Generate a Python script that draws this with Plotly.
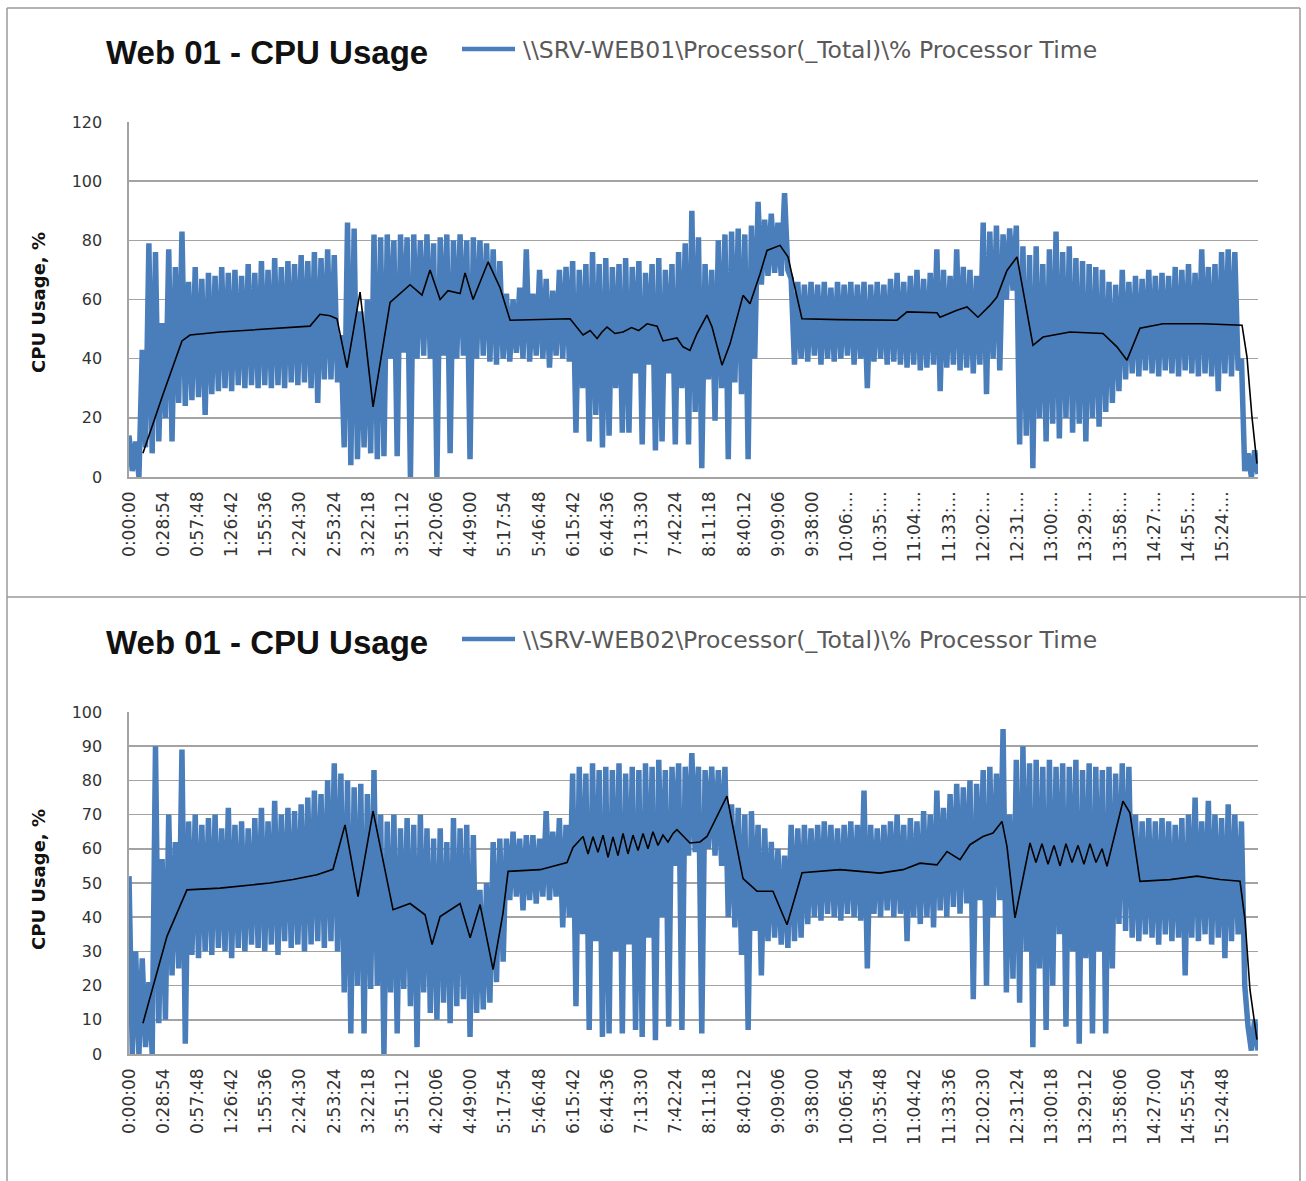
import plotly.graph_objects as go

W, H = 1306, 1181

# ---------------- data ----------------
SAMPLE_MIN = 2.8          # minutes between consecutive samples
LABEL_STEP_MIN = 28.9     # 0:28:54 between category labels

labels_full = ["0:00:00", "0:28:54", "0:57:48", "1:26:42", "1:55:36", "2:24:30", "2:53:24",
               "3:22:18", "3:51:12", "4:20:06", "4:49:00", "5:17:54", "5:46:48", "6:15:42",
               "6:44:36", "7:13:30", "7:42:24", "8:11:18", "8:40:12", "9:09:06", "9:38:00",
               "10:06:54", "10:35:48", "11:04:42", "11:33:36", "12:02:30", "12:31:24",
               "13:00:18", "13:29:12", "13:58:06", "14:27:00", "14:55:54", "15:24:48"]
labels_top = labels_full[:21] + ["10:06:...", "10:35:...", "11:04:...", "11:33:...", "12:02:...",
                                 "12:31:...", "13:00:...", "13:29:...", "13:58:...", "14:27:...",
                                 "14:55:...", "15:24:..."]

# SRV-WEB01: alternating sample highs / lows of the raw counter
web01_peaks = [14, 12, 43, 79, 76, 52, 77, 71, 83, 66,
               71, 67, 69, 68, 71, 69, 70, 68, 72, 69,
               73, 70, 74, 71, 73, 72, 75, 73, 76, 74,
               77, 75, 48, 86, 84, 56, 60, 82, 81, 82,
               80, 82, 81, 82, 80, 82, 79, 81, 82, 80,
               82, 80, 81, 80, 79, 77, 73, 62, 60, 64,
               77, 62, 70, 67, 63, 70, 71, 73, 70, 72,
               76, 72, 74, 71, 72, 74, 71, 73, 69, 72,
               74, 70, 72, 76, 79, 90, 81, 72, 70, 80,
               82, 83, 84, 82, 85, 93, 87, 89, 86, 96,
               67, 66, 65, 66, 65, 66, 64, 66, 65, 66,
               65, 66, 65, 66, 65, 67, 69, 66, 68, 70,
               67, 69, 77, 70, 68, 77, 71, 70, 68, 86,
               83, 85, 82, 84, 85, 78, 75, 78, 72, 77,
               83, 76, 78, 74, 73, 72, 71, 70, 66, 65,
               70, 66, 68, 67, 70, 68, 69, 68, 71, 70,
               72, 69, 77, 71, 72, 76, 77, 76, 40, 8,
               9]
web01_troughs = [2, 0, 10, 8, 12, 20, 12, 25, 24, 26,
                 27, 21, 28, 29, 30, 29, 31, 30, 31, 30,
                 31, 30, 31, 30, 32, 31, 32, 30, 25, 33,
                 33, 32, 10, 4, 6, 10, 8, 6, 7, 40,
                 7, 42, 0, 40, 41, 40, 0, 41, 8, 40,
                 41, 6, 40, 41, 39, 38, 40, 39, 42, 40,
                 39, 41, 40, 37, 41, 40, 39, 15, 30, 12,
                 21, 10, 14, 30, 15, 15, 35, 11, 38, 9,
                 12, 35, 11, 30, 11, 22, 3, 33, 19, 30,
                 6, 32, 28, 6, 40, 65, 68, 69, 68, 70,
                 38, 40, 39, 41, 38, 40, 39, 40, 41, 38,
                 40, 30, 39, 40, 38, 39, 38, 37, 38, 36,
                 37, 38, 29, 37, 38, 36, 37, 35, 38, 28,
                 40, 36, 60, 63, 11, 14, 3, 20, 12, 18,
                 13, 20, 15, 18, 12, 20, 17, 22, 25, 29,
                 33, 35, 34, 36, 35, 34, 36, 35, 34, 36,
                 35, 34, 35, 34, 29, 35, 34, 36, 2, 0,
                 1]
# SRV-WEB01 moving-average trendline (minutes from start, value)
web01_avg_min = [11.8, 28.8, 44.8, 51.6, 77.2, 119.5, 153.1, 161.5, 170, 175.9,
                 184.4, 195.4, 206.4, 220.8, 237.7, 247.8, 254.6, 263.1, 269.8, 280,
                 284.2, 291, 303.7, 313.8, 322.3, 373, 384, 390, 395.9, 400,
                 404.3, 411, 417.8, 425, 431, 438.1, 446.6, 451.6, 463.4, 468.5,
                 474.4, 480.4, 488.8, 493.1, 501.5, 508.3, 519.3, 525.2, 533.7, 539.6,
                 550.6, 557.3, 569.1, 600, 635.1, 649.5, 658, 683.3, 685.9, 700.2,
                 708.7, 718, 728.1, 734, 742.5, 751, 764.5, 773, 795.8, 823.7,
                 835.5, 844, 855, 874.5, 908.3, 941.3, 945.5, 949.7, 953.9]
web01_avg_val = [8, 28, 46, 48, 49, 50, 51, 55, 54.5, 53.5,
                 37, 62.5, 23.7, 59, 65, 61.5, 70, 60, 63, 62,
                 69, 60, 72.7, 64, 53, 53.5, 48, 49.5, 46.8, 49,
                 50.7, 48.5, 49, 50.5, 49.5, 51.8, 51, 46, 47, 44,
                 42.8, 48.5, 54.7, 50.7, 37.8, 45, 61.4, 58.6, 68.7, 76.6,
                 78.3, 74.4, 53.5, 53.2, 53, 53, 55.8, 55.5, 54, 56.4,
                 57.5, 54, 58, 60.8, 69.8, 74.4, 44.5, 47.3, 49, 48.5,
                 44, 39.5, 50.3, 51.8, 51.8, 51.3, 40.5, 20.3, 4.5]

# SRV-WEB02
web02_peaks = [52, 30, 28, 21, 90, 57, 70, 62, 89, 68,
               70, 67, 69, 70, 66, 72, 67, 68, 66, 69,
               72, 68, 74, 70, 72, 71, 73, 75, 77, 76,
               80, 85, 82, 80, 78, 79, 76, 83, 70, 68,
               70, 66, 69, 67, 70, 66, 63, 66, 62, 69,
               66, 67, 64, 48, 50, 62, 63, 63, 65, 63,
               64, 64, 63, 71, 65, 69, 67, 82, 84, 82,
               85, 83, 84, 83, 85, 82, 84, 83, 85, 84,
               86, 83, 84, 85, 84, 88, 84, 83, 84, 83,
               84, 73, 72, 70, 71, 67, 66, 62, 60, 58,
               67, 66, 67, 66, 67, 68, 67, 66, 67, 68,
               67, 77, 67, 66, 67, 68, 70, 67, 69, 68,
               71, 70, 77, 72, 76, 79, 78, 80, 79, 83,
               84, 82, 95, 70, 86, 90, 85, 86, 84, 86,
               84, 85, 84, 86, 83, 85, 84, 83, 84, 82,
               85, 84, 70, 68, 69, 68, 69, 68, 67, 69,
               70, 75, 68, 74, 70, 69, 73, 70, 68, 8,
               10]
web02_troughs = [0, 0, 2, 0, 9, 10, 23, 25, 3, 29,
                 28, 30, 29, 31, 30, 28, 31, 30, 32, 31,
                 30, 32, 29, 33, 31, 32, 30, 32, 33, 31,
                 33, 30, 18, 6, 20, 6, 19, 20, 0, 18,
                 6, 19, 14, 2, 18, 12, 10, 15, 9, 14,
                 16, 5, 12, 13, 15, 21, 27, 45, 46, 42,
                 45, 44, 46, 45, 46, 37, 40, 14, 35, 7,
                 33, 5, 6, 30, 6, 32, 7, 5, 34, 4,
                 40, 8, 55, 7, 58, 59, 6, 60, 58, 55,
                 40, 37, 29, 7, 36, 23, 33, 34, 32, 31,
                 33, 34, 38, 40, 39, 41, 40, 39, 41, 40,
                 39, 25, 41, 40, 42, 40, 41, 33, 40, 38,
                 40, 37, 42, 40, 43, 41, 44, 16, 45, 20,
                 40, 45, 18, 22, 15, 30, 2, 25, 7, 20,
                 35, 8, 30, 3, 28, 6, 30, 6, 25, 38,
                 36, 34, 33, 35, 34, 32, 35, 33, 34, 23,
                 34, 33, 35, 32, 34, 28, 33, 35, 20, 1,
                 1]
web02_avg_min = [11.8, 32.1, 49, 77, 119.2, 138.7, 159, 172.5, 182.7, 193.7,
                 206.4, 223.3, 237.7, 250.4, 256.3, 263.1, 280, 288.5, 296.9, 307.9,
                 316.3, 320.6, 347.6, 370.4, 375.5, 384, 388.2, 392.4, 396.6, 400.9,
                 405.1, 409.3, 413.5, 417.8, 422, 426.2, 430.5, 434.7, 438.9, 443.1,
                 447.4, 451.6, 455.8, 460.1, 463.4, 474.4, 482.9, 488.8, 505.7, 519.3,
                 531.1, 544.6, 556.5, 569.2, 601.3, 635.1, 654.6, 669, 683.3, 691.8,
                 702.8, 711.2, 722.2, 730.7, 738.3, 742.5, 749.3, 762, 767, 772.1,
                 777.2, 782.3, 787.4, 792.4, 797.5, 802.6, 807.6, 812.7, 817.8, 822.9,
                 827.1, 835.5, 840.6, 846.5, 855, 880.4, 903.2, 922.7, 939.6, 943.8,
                 948, 953.9]
web02_avg_val = [9, 34.4, 48, 48.5, 50, 51, 52.4, 54, 67, 46,
                 71, 42.2, 44, 40.7, 32, 40.2, 44, 34, 43.7, 24.7,
                 41.2, 53.4, 53.9, 56, 60.4, 63.6, 58.5, 63.5, 59, 64,
                 57.5, 63.5, 58, 64.5, 58.5, 64, 59.5, 64.5, 60, 65,
                 61, 64, 62, 64.5, 65.6, 61.7, 62, 63.6, 75.4, 51.3,
                 47.6, 47.6, 37.8, 53, 53.9, 52.9, 53.9, 55.8, 55.3, 59.2,
                 56.8, 61.2, 63.6, 64.6, 68, 60.7, 39.8, 61.7, 56, 61.5,
                 55.5, 61, 55, 61.5, 56, 61, 55.5, 61.5, 56, 60,
                 54.9, 66.6, 73.9, 70.5, 50.5, 51, 52, 51, 50.5, 39.3,
                 18.8, 4.2]

# ---------------- styling ----------------
BLUE = "#4a7ebb"
GRID = "#a3a3a3"
FRAME = "#9a9a9a"
X_TICK_FONT = dict(family="DejaVu Sans, sans-serif", size=17, color="#333333")
Y_TICK_FONT = dict(family="DejaVu Sans, sans-serif", size=16, color="#333333")


def interleave(peaks, troughs):
    out = []
    for p, t in zip(peaks, troughs):
        out += [p, t]
    return out


def px(x):
    return x / W


def py(y):
    return 1 - y / H


fig = go.Figure()

panels = [
    dict(peaks=web01_peaks, troughs=web01_troughs, avg_t=web01_avg_min, avg_v=web01_avg_val,
         xa="x", ya="y", name=r"\\SRV-WEB01\Processor(_Total)\% Processor Time"),
    dict(peaks=web02_peaks, troughs=web02_troughs, avg_t=web02_avg_min, avg_v=web02_avg_val,
         xa="x2", ya="y2", name=r"\\SRV-WEB02\Processor(_Total)\% Processor Time"),
]

for p in panels:
    vals = interleave(p["peaks"], p["troughs"])
    times = [k * SAMPLE_MIN for k in range(len(vals))]
    fig.add_trace(go.Scatter(x=times, y=vals, mode="lines", xaxis=p["xa"], yaxis=p["ya"],
                             name=p["name"], showlegend=False,
                             line=dict(color=BLUE, width=5.5, simplify=False)))
    fig.add_trace(go.Scatter(x=p["avg_t"], y=p["avg_v"], mode="lines", xaxis=p["xa"], yaxis=p["ya"],
                             showlegend=False, line=dict(color="#000000", width=1.6)))

x_end = (2 * len(web01_peaks) - 1) * SAMPLE_MIN
tickvals = [i * LABEL_STEP_MIN for i in range(len(labels_full))]

x_common = dict(range=[0, x_end], tickmode="array", tickvals=tickvals, tickangle=-90,
                showgrid=False, zeroline=False, showline=True, linecolor=GRID, linewidth=1.6,
                ticks="", tickfont=X_TICK_FONT, ticklabelstandoff=6, automargin=False,
                fixedrange=True)
y_common = dict(showgrid=True, gridcolor=GRID, gridwidth=1.6, zeroline=False, showline=True,
                linecolor=GRID, linewidth=1.6, ticks="", tickfont=Y_TICK_FONT,
                ticklabelstandoff=22, automargin=False, fixedrange=True)

fig.update_layout(
    width=W, height=H, autosize=False,
    margin=dict(l=0, r=0, t=0, b=0, pad=0, autoexpand=False),
    paper_bgcolor="white", plot_bgcolor="white",
    xaxis=dict(domain=[px(129), px(1258)], anchor="y", ticktext=labels_top, **x_common),
    yaxis=dict(domain=[py(477), py(122)], anchor="x", range=[0, 120], dtick=20, **y_common),
    xaxis2=dict(domain=[px(129), px(1258)], anchor="y2", ticktext=labels_full, **x_common),
    yaxis2=dict(domain=[py(1054), py(712)], anchor="x2", range=[0, 100], dtick=10, **y_common),
)

shapes = [
    # outer frame and divider
    dict(type="line", xref="paper", yref="paper", x0=px(7), x1=px(7), y0=py(8), y1=py(1181),
         line=dict(color=FRAME, width=1.5)),
    dict(type="line", xref="paper", yref="paper", x0=px(7), x1=px(1300), y0=py(8), y1=py(8),
         line=dict(color=FRAME, width=1.5)),
    dict(type="line", xref="paper", yref="paper", x0=px(1300), x1=px(1300), y0=py(8), y1=py(1181),
         line=dict(color=FRAME, width=1.5)),
    dict(type="line", xref="paper", yref="paper", x0=px(7), x1=px(1306), y0=py(597), y1=py(597),
         line=dict(color=FRAME, width=1.5)),
]
annotations = []
for top, p in ((52, panels[0]), (642, panels[1])):
    annotations.append(dict(xref="paper", yref="paper", x=px(104), y=py(top), xanchor="left",
                            yanchor="middle", showarrow=False, text="<b>Web 01 - CPU Usage</b>",
                            font=dict(family="Liberation Sans, Arial, sans-serif", size=33,
                                      color="#111111")))
    annotations.append(dict(xref="paper", yref="paper", x=px(521), y=py(top - 2), xanchor="left",
                            yanchor="middle", showarrow=False, text=p["name"],
                            font=dict(family="DejaVu Sans, sans-serif", size=23.5, color="#595959")))
    shapes.append(dict(type="line", xref="paper", yref="paper", x0=px(462), x1=px(515),
                       y0=py(top - 3), y1=py(top - 3), line=dict(color=BLUE, width=4.5)))

for cy in (303, 880):
    annotations.append(dict(xref="paper", yref="paper", x=px(38), y=py(cy), xanchor="center",
                            yanchor="middle", showarrow=False, textangle=-90,
                            text="<b>CPU Usage, %</b>",
                            font=dict(family="DejaVu Sans, sans-serif", size=18,
                                      color="#111111")))

fig.update_layout(shapes=shapes, annotations=annotations)

fig.write_html("out.html", config={"displayModeBar": False, "staticPlot": True},
               post_script="document.body.style.margin='0px';document.body.style.padding='0px';"
                           "document.documentElement.style.overflow='hidden';")
